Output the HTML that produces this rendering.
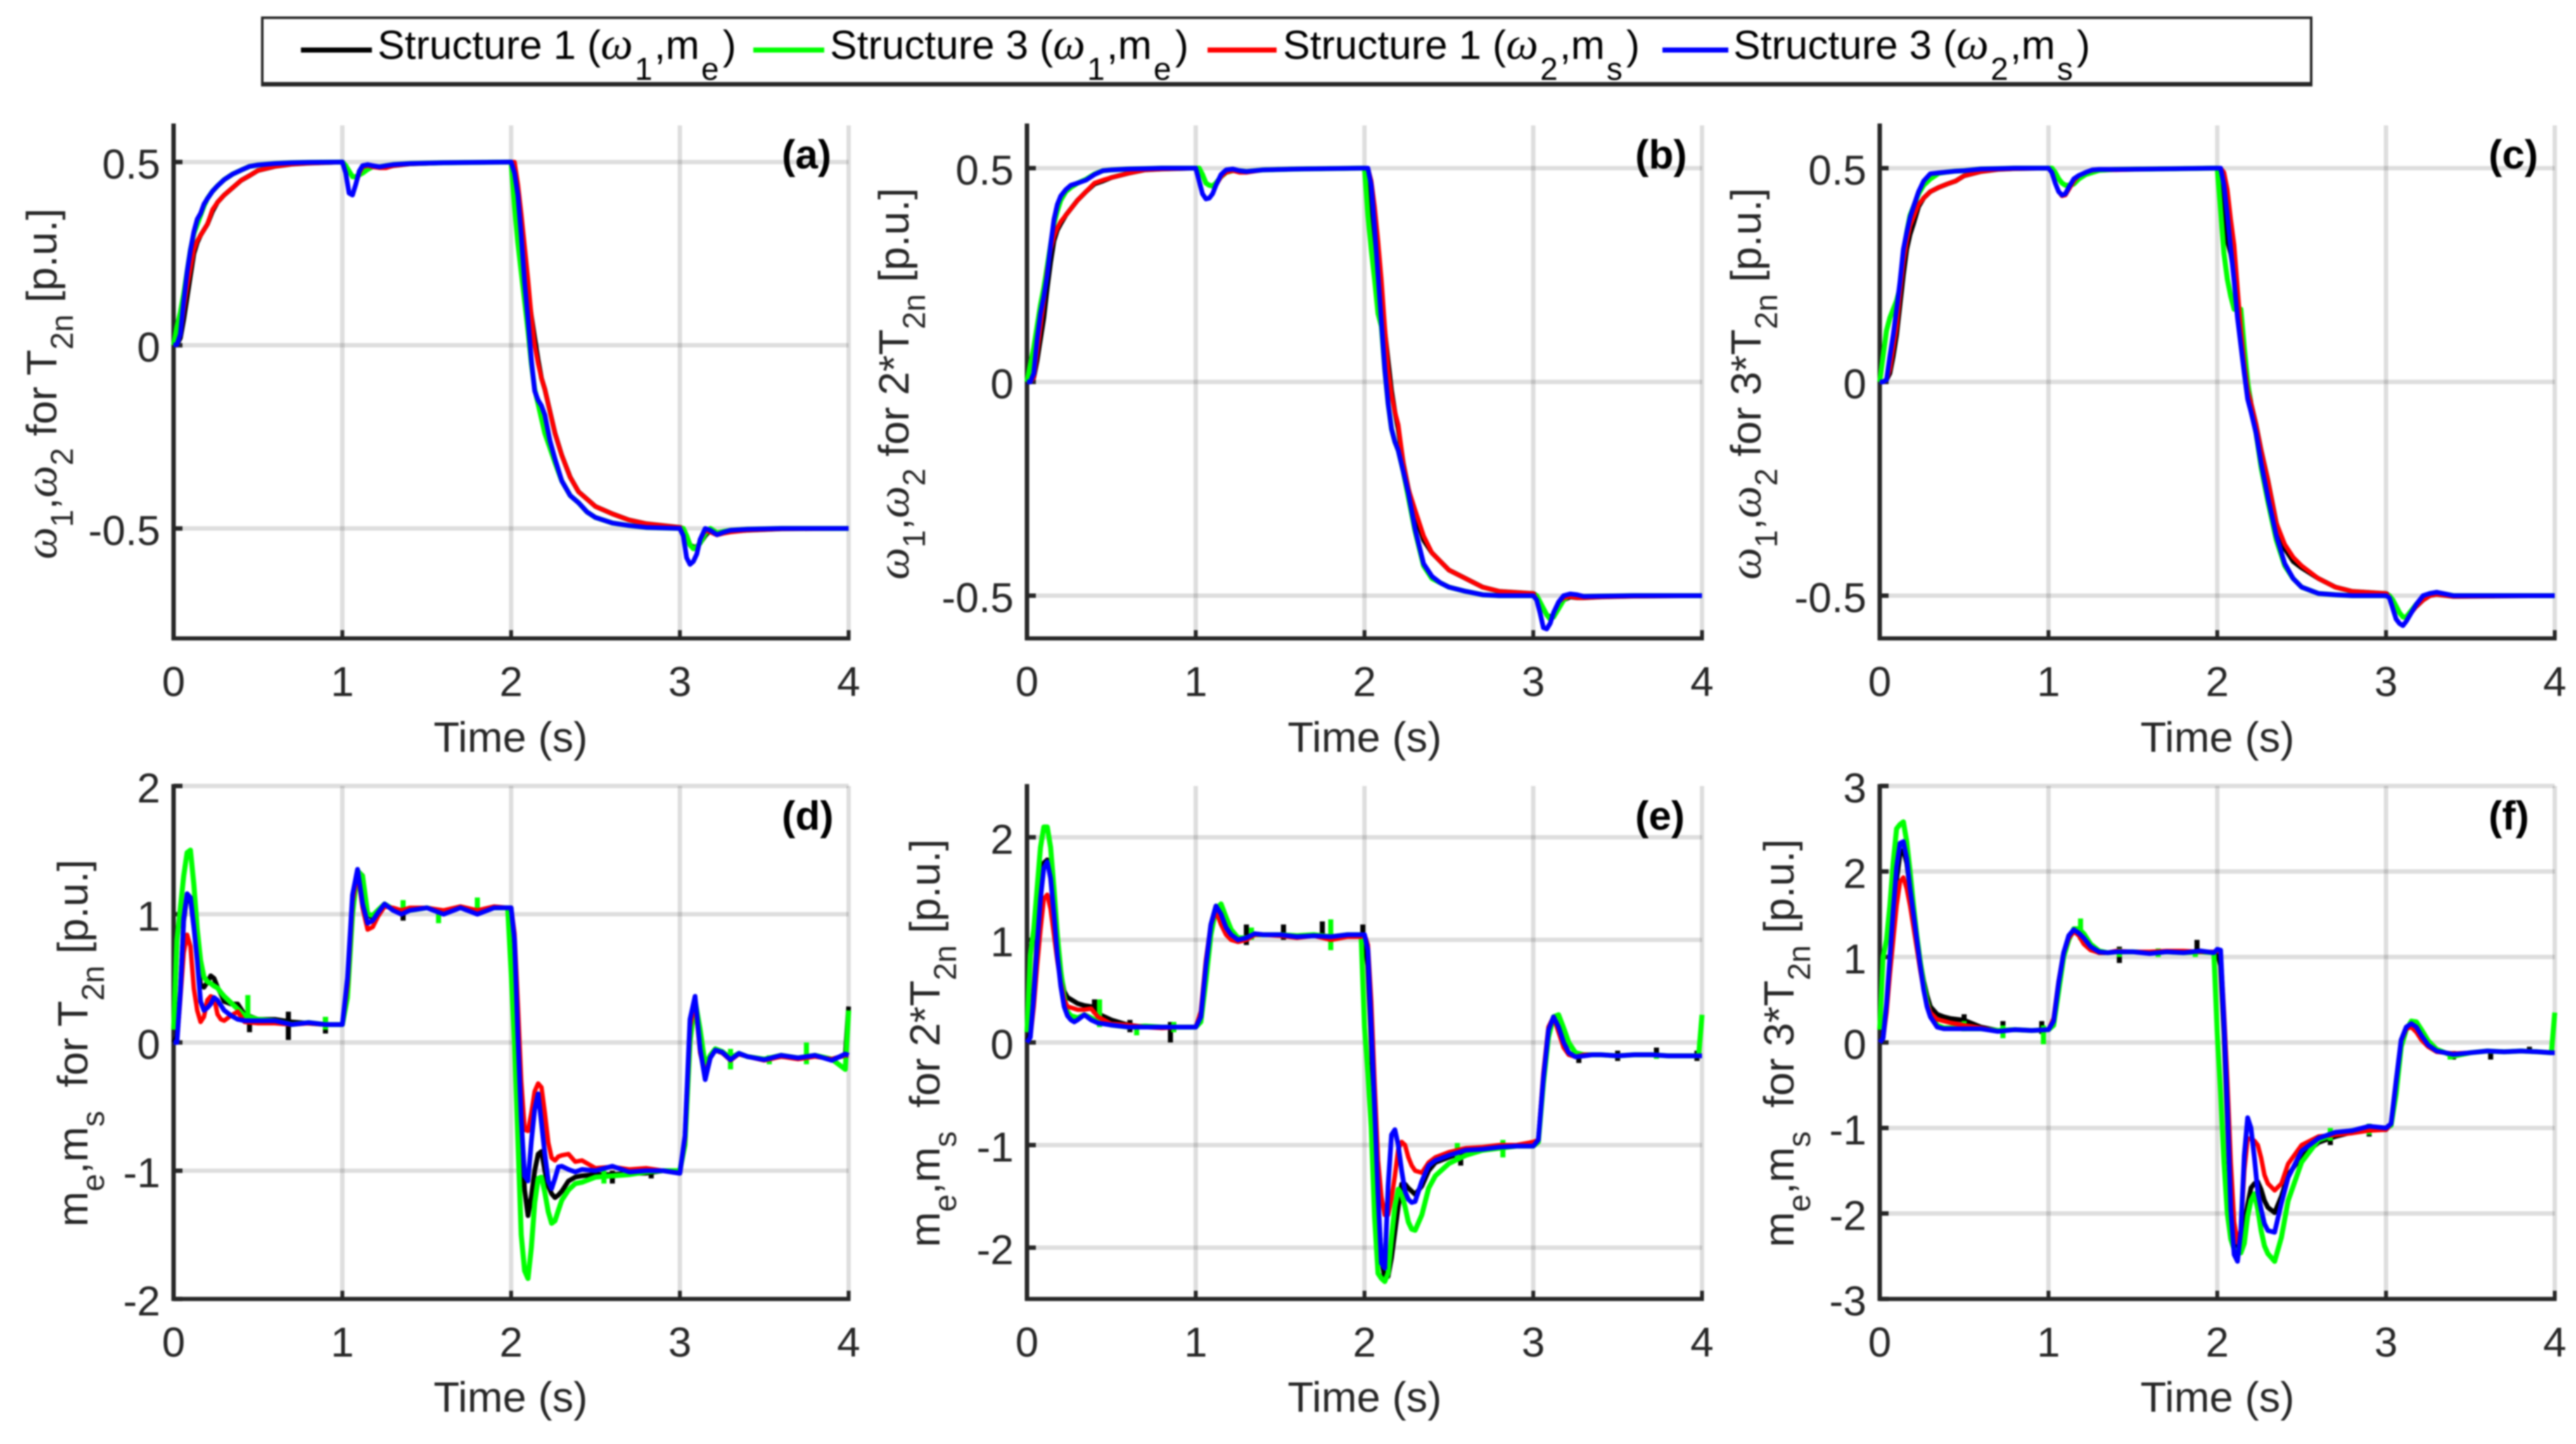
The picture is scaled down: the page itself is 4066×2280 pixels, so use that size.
<!DOCTYPE html>
<html lang="en">
<head>
<meta charset="utf-8">
<title>Speed and torque responses for structures 1 and 3</title>
<style>
html,body{margin:0;padding:0;background:#fff;width:4066px;height:2280px;overflow:hidden}
svg{display:block;filter:blur(1.4px)}
text{font-family:"Liberation Sans",Arial,sans-serif;fill:#262626;white-space:pre}
.om{font-family:"Liberation Serif",serif;font-style:italic}
.yl .om{font-size:72px}
.lg .om{font-size:72px}
.sb{font-size:50px}
.yl{font-size:67px}
.lg{font-size:64px;fill:#000}
.pl{font-size:64px;font-weight:bold;fill:#000}
</style>
</head>
<body>
<svg id="figure" width="4066" height="2280" viewBox="0 0 4066 2280" xmlns="http://www.w3.org/2000/svg">
<rect x="0" y="0" width="4066" height="2280" fill="#fff"/>
<g>
<rect x="414" y="28" width="3234" height="105" fill="#fff" stroke="#262626" stroke-width="4"/>
<line x1="412" y1="133" x2="3650" y2="133" stroke="#262626" stroke-width="7"/>
<line x1="475" y1="79" x2="587" y2="79" stroke="#000" stroke-width="8"/>
<text class="lg" x="596" y="93">Structure 1 (<tspan class="om">ω</tspan><tspan class="sb" dx="3" dy="33">1</tspan><tspan dx="3" dy="-33">,m</tspan><tspan class="sb" dx="3" dy="33">e</tspan><tspan dx="6" dy="-33">)</tspan></text>
<line x1="1189" y1="79" x2="1301" y2="79" stroke="#00ff00" stroke-width="8"/>
<text class="lg" x="1310" y="93">Structure 3 (<tspan class="om">ω</tspan><tspan class="sb" dx="3" dy="33">1</tspan><tspan dx="3" dy="-33">,m</tspan><tspan class="sb" dx="3" dy="33">e</tspan><tspan dx="6" dy="-33">)</tspan></text>
<line x1="1906" y1="79" x2="2015" y2="79" stroke="#ff0000" stroke-width="8"/>
<text class="lg" x="2025" y="93">Structure 1 (<tspan class="om">ω</tspan><tspan class="sb" dx="3" dy="33">2</tspan><tspan dx="3" dy="-33">,m</tspan><tspan class="sb" dx="3" dy="33">s</tspan><tspan dx="6" dy="-33">)</tspan></text>
<line x1="2624" y1="79" x2="2728" y2="79" stroke="#0000ff" stroke-width="8"/>
<text class="lg" x="2736" y="93">Structure 3 (<tspan class="om">ω</tspan><tspan class="sb" dx="3" dy="33">2</tspan><tspan dx="3" dy="-33">,m</tspan><tspan class="sb" dx="3" dy="33">s</tspan><tspan dx="6" dy="-33">)</tspan></text>
</g>
<g id="plots"></g>
<g>
<text class="yl" text-anchor="middle" transform="translate(89,606) rotate(-90)"><tspan class="om">ω</tspan><tspan class="sb" dy="26">1</tspan><tspan dy="-26">,</tspan><tspan class="om">ω</tspan><tspan class="sb" dy="26">2</tspan><tspan dy="-26"> for T</tspan><tspan class="sb" dy="26">2n</tspan><tspan dy="-26"> [p.u.]</tspan></text>
<text class="yl" text-anchor="middle" transform="translate(1434,606) rotate(-90)"><tspan class="om">ω</tspan><tspan class="sb" dy="26">1</tspan><tspan dy="-26">,</tspan><tspan class="om">ω</tspan><tspan class="sb" dy="26">2</tspan><tspan dy="-26"> for 2*T</tspan><tspan class="sb" dy="26">2n</tspan><tspan dy="-26"> [p.u.]</tspan></text>
<text class="yl" text-anchor="middle" transform="translate(2779,606) rotate(-90)"><tspan class="om">ω</tspan><tspan class="sb" dy="26">1</tspan><tspan dy="-26">,</tspan><tspan class="om">ω</tspan><tspan class="sb" dy="26">2</tspan><tspan dy="-26"> for 3*T</tspan><tspan class="sb" dy="26">2n</tspan><tspan dy="-26"> [p.u.]</tspan></text>
<text class="yl" text-anchor="middle" transform="translate(138,1647) rotate(-90)">m<tspan class="sb" dy="26">e</tspan><tspan dy="-26">,m</tspan><tspan class="sb" dy="26">s</tspan><tspan dy="-26">  for T</tspan><tspan class="sb" dy="26">2n</tspan><tspan dy="-26"> [p.u.]</tspan></text>
<text class="yl" text-anchor="middle" transform="translate(1483,1647) rotate(-90)">m<tspan class="sb" dy="26">e</tspan><tspan dy="-26">,m</tspan><tspan class="sb" dy="26">s</tspan><tspan dy="-26">  for 2*T</tspan><tspan class="sb" dy="26">2n</tspan><tspan dy="-26"> [p.u.]</tspan></text>
<text class="yl" text-anchor="middle" transform="translate(2831,1647) rotate(-90)">m<tspan class="sb" dy="26">e</tspan><tspan dy="-26">,m</tspan><tspan class="sb" dy="26">s</tspan><tspan dy="-26">  for 3*T</tspan><tspan class="sb" dy="26">2n</tspan><tspan dy="-26"> [p.u.]</tspan></text>
<text class="yl" text-anchor="middle" x="806" y="1187">Time (s)</text>
<text class="yl" text-anchor="middle" x="2154" y="1187">Time (s)</text>
<text class="yl" text-anchor="middle" x="3500" y="1187">Time (s)</text>
<text class="yl" text-anchor="middle" x="806" y="2229">Time (s)</text>
<text class="yl" text-anchor="middle" x="2154" y="2229">Time (s)</text>
<text class="yl" text-anchor="middle" x="3500" y="2229">Time (s)</text>
<text class="pl" x="1234" y="266">(a)</text>
<text class="pl" x="2581" y="266">(b)</text>
<text class="pl" x="3928" y="266">(c)</text>
<text class="pl" x="1234" y="1310">(d)</text>
<text class="pl" x="2581" y="1310">(e)</text>
<text class="pl" x="3928" y="1310">(f)</text>
</g>
</svg>
<script>
const xTickValues=[0,1,2,3,4];
const xTickLabels=['0','1','2','3','4'];

const timeTop=[
0,.02,.04,.06,.08,.1,.12,.14,.16,.18,.2,.23,.26,.3,.35,.4,.45,.5,.6,.7,.8,
1,1.02,1.04,1.06,1.08,1.1,1.12,1.15,1.18,1.22,1.26,1.3,1.4,1.6,1.98,
2,2.02,2.04,2.06,2.08,2.1,2.12,2.14,2.16,2.18,2.2,2.23,2.26,2.3,2.35,2.4,2.45,2.5,2.6,2.7,2.8,
3,3.02,3.04,3.06,3.08,3.1,3.12,3.15,3.18,3.22,3.26,3.3,3.4,3.6,4];

const timeBottom=[
0,.02,.04,.06,.08,.1,.12,.14,.16,.18,.2,.22,.24,.26,.28,.3,.34,.38,.42,.5,.6,.7,.8,.9,
1,1.03,1.06,1.09,1.12,1.15,1.18,1.21,1.25,1.3,1.35,1.4,1.5,1.6,1.7,1.8,1.9,1.98,
2,2.02,2.04,2.06,2.08,2.1,2.12,2.14,2.16,2.18,2.2,2.22,2.24,2.26,2.28,2.3,2.34,2.38,2.42,2.5,2.6,2.7,2.8,2.9,
3,3.03,3.06,3.09,3.12,3.15,3.18,3.21,3.25,3.3,3.35,3.4,3.5,3.6,3.7,3.8,3.9,
3.98,4];

/* panel a: speed, T2n */
const aYTicks=[-.5,0,.5];
const aYLabels=['-0.5','0','0.5'];
const aBlack=[
0,.002,.02,.07,.13,.19,.25,.28,.3,.315,.33,.365,.39,.41,.43,.45,.463,.477,.488,.494,.497,
.5,.49,.475,.46,.46,.465,.47,.48,.487,.485,.485,.49,.495,.498,.5,
.5,.46,.38,.3,.23,.15,.08,.02,-.04,-.09,-.12,-.18,-.24,-.3,-.36,-.4,-.42,-.44,-.46,-.477,-.487,
-.497,-.5,-.52,-.545,-.55,-.55,-.54,-.52,-.505,-.515,-.512,-.508,-.505,-.501,-.5];
const aGreen=[
0,.05,.09,.14,.2,.26,.305,.33,.355,.38,.4,.42,.435,.452,.467,.478,.488,.492,.496,.498,.499,
.5,.49,.475,.46,.46,.465,.47,.48,.488,.487,.49,.493,.496,.498,.5,
.5,.38,.28,.2,.12,.04,-.05,-.12,-.16,-.2,-.24,-.28,-.32,-.37,-.41,-.43,-.455,-.47,-.485,-.492,-.497,
-.5,-.5,-.52,-.545,-.555,-.55,-.54,-.515,-.5,-.512,-.508,-.505,-.502,-.5,-.5];
const aRed=[
0,.002,.03,.1,.16,.21,.26,.285,.3,.315,.33,.37,.39,.41,.43,.45,.463,.477,.488,.494,.497,
.5,.47,.415,.41,.44,.47,.487,.49,.487,.484,.484,.49,.495,.498,.5,
.5,.5,.44,.36,.27,.18,.08,0,-.05,-.09,-.12,-.18,-.24,-.3,-.36,-.4,-.42,-.44,-.46,-.477,-.487,
-.497,-.52,-.58,-.598,-.59,-.57,-.53,-.505,-.51,-.518,-.513,-.51,-.505,-.501,-.5];
const aBlue=[
0,.002,.03,.12,.2,.26,.31,.344,.36,.385,.4,.42,.435,.452,.467,.478,.488,.492,.496,.498,.499,
.5,.47,.415,.41,.44,.475,.49,.493,.49,.487,.49,.493,.496,.498,.5,
.5,.47,.41,.3,.17,.07,-.04,-.125,-.15,-.165,-.19,-.26,-.31,-.37,-.41,-.43,-.455,-.47,-.485,-.492,-.497,
-.5,-.52,-.58,-.598,-.59,-.57,-.53,-.5,-.505,-.517,-.51,-.505,-.502,-.5,-.5];

/* panel b: speed, 2*T2n */
const bYTicks=[-.5,0,.5];
const bYLabels=['-0.5','0','0.5'];
const bBlack=[
0,0,.01,.05,.1,.15,.22,.28,.33,.355,.37,.39,.405,.425,.445,.463,.47,.478,.488,.496,.498,
.5,.5,.485,.465,.46,.458,.465,.48,.49,.494,.494,.492,.496,.498,.5,
.5,.46,.4,.33,.27,.2,.12,.05,-.02,-.07,-.11,-.19,-.25,-.31,-.37,-.4,-.42,-.44,-.46,-.48,-.49,
-.495,-.5,-.515,-.53,-.545,-.55,-.545,-.525,-.51,-.503,-.505,-.505,-.503,-.501,-.5];
const bGreen=[
0,.04,.08,.13,.18,.22,.27,.32,.37,.4,.425,.445,.455,.465,.474,.486,.494,.496,.498,.499,.5,
.5,.5,.485,.465,.46,.458,.465,.48,.49,.494,.494,.492,.496,.498,.5,
.5,.39,.31,.24,.16,.13,.03,-.05,-.11,-.14,-.16,-.21,-.27,-.35,-.43,-.46,-.47,-.48,-.49,-.498,-.5,
-.5,-.5,-.515,-.53,-.545,-.555,-.55,-.53,-.51,-.498,-.5,-.502,-.501,-.5,-.5];
const bRed=[
0,0,.01,.07,.13,.19,.26,.31,.34,.36,.375,.39,.405,.425,.445,.465,.472,.478,.488,.496,.498,
.5,.47,.44,.428,.43,.44,.46,.48,.49,.494,.49,.49,.496,.498,.5,
.5,.5,.47,.41,.33,.24,.13,.03,-.03,-.07,-.1,-.19,-.25,-.3,-.36,-.4,-.42,-.44,-.46,-.48,-.49,
-.495,-.51,-.54,-.575,-.578,-.565,-.54,-.515,-.505,-.502,-.505,-.505,-.503,-.501,-.5];
const bBlue=[
0,0,.02,.1,.16,.2,.25,.32,.38,.415,.435,.45,.46,.465,.472,.485,.494,.496,.498,.499,.5,
.5,.47,.44,.428,.43,.44,.46,.485,.496,.498,.494,.492,.496,.498,.5,
.5,.5,.46,.36,.25,.14,.03,-.05,-.11,-.14,-.16,-.21,-.26,-.345,-.425,-.455,-.47,-.48,-.49,-.498,-.5,
-.5,-.51,-.54,-.575,-.578,-.565,-.54,-.515,-.5,-.496,-.498,-.502,-.501,-.5,-.5];

/* panel c: speed, 3*T2n */
const cYTicks=[-.5,0,.5];
const cYLabels=['-0.5','0','0.5'];
const cBlack=[
0,0,.005,.02,.06,.11,.18,.25,.31,.345,.37,.41,.43,.445,.455,.463,.47,.482,.492,.497,.499,
.5,.5,.49,.475,.465,.46,.458,.463,.475,.485,.49,.495,.497,.498,.5,
.5,.46,.39,.33,.3,.25,.2,.13,.07,0,-.05,-.1,-.16,-.23,-.33,-.39,-.42,-.435,-.46,-.48,-.49,
-.495,-.5,-.51,-.525,-.54,-.55,-.55,-.535,-.525,-.51,-.5,-.497,-.502,-.501,-.5];
const cGreen=[
0,.06,.12,.15,.17,.19,.22,.3,.35,.39,.41,.44,.46,.475,.488,.491,.493,.494,.498,.499,.5,
.5,.5,.49,.475,.465,.46,.46,.463,.475,.485,.49,.495,.497,.498,.5,
.5,.4,.3,.24,.2,.17,.17,.17,.08,0,-.06,-.12,-.2,-.28,-.37,-.43,-.46,-.48,-.495,-.498,-.5,
-.5,-.5,-.51,-.525,-.54,-.55,-.55,-.535,-.52,-.505,-.495,-.493,-.5,-.5,-.5];
const cRed=[
0,0,.005,.03,.08,.13,.21,.28,.33,.365,.385,.415,.43,.445,.455,.463,.47,.482,.492,.497,.499,
.5,.49,.465,.445,.435,.437,.45,.47,.483,.49,.495,.497,.496,.498,.5,
.5,.5,.49,.45,.38,.32,.22,.12,.04,-.02,-.05,-.1,-.16,-.23,-.33,-.38,-.41,-.43,-.46,-.48,-.49,
-.495,-.505,-.53,-.555,-.565,-.57,-.56,-.54,-.525,-.51,-.5,-.497,-.502,-.501,-.5];
const cBlue=[
0,0,.005,.06,.11,.17,.235,.31,.35,.385,.41,.445,.47,.487,.489,.491,.493,.494,.498,.499,.5,
.5,.49,.465,.445,.437,.44,.455,.475,.483,.49,.496,.497,.497,.498,.5,
.5,.5,.46,.39,.31,.235,.15,.085,.02,-.04,-.07,-.12,-.19,-.27,-.36,-.425,-.46,-.48,-.495,-.498,-.5,
-.5,-.505,-.53,-.555,-.565,-.57,-.56,-.54,-.52,-.5,-.495,-.492,-.5,-.5,-.5];

/* panel d: torque, T2n */
const dYTicks=[-2,-1,0,1,2];
const dYLabels=['-2','-1','0','1','2'];
const dBlack=[
0,.05,.4,.95,1.15,1.12,.9,.65,.45,.43,.47,.52,.5,.43,.38,.32,.3,.3,.22,.18,.18,.16,.15,.14,
.14,.45,1.1,1.34,1.3,1,.97,1.03,1.08,1.04,1,1.03,1.05,1.02,1.05,1.02,1.05,1.05,
1.05,.6,-.1,-.7,-1.15,-1.35,-1.2,-1,-.87,-.85,-1,-1.12,-1.18,-1.21,-1.19,-1.16,-1.08,-1.05,-1.04,-1.03,-1.03,-1.02,-1.02,-1,
-1.02,-.75,.12,.33,-.05,-.28,-.12,-.06,-.08,-.13,-.09,-.11,-.13,-.11,-.12,-.1,-.13,
-.1,.28];
const dGreen=[
.1,.8,1.05,1.3,1.48,1.5,1.23,.885,.64,.51,.475,.46,.44,.425,.39,.36,.31,.26,.21,.18,.17,.14,.155,.14,
.14,.35,1,1.34,1.295,1,.99,1.03,1.08,1.04,1.01,1.03,1.05,1.02,1.05,1.02,1.05,1.05,
.55,0,-.75,-1.5,-1.78,-1.84,-1.6,-1.25,-1.06,-1.05,-1.17,-1.32,-1.41,-1.39,-1.31,-1.23,-1.15,-1.1,-1.09,-1.05,-1.04,-1.03,-1.01,-1,
-1,-.8,0,.33,.1,-.18,-.1,-.05,-.07,-.12,-.085,-.11,-.13,-.1,-.12,-.1,-.13,
-.21,.25];
const dRed=[
0,0,.35,.7,.84,.75,.42,.25,.16,.2,.33,.36,.35,.22,.18,.17,.21,.24,.16,.15,.15,.14,.15,.14,
.14,.45,1.1,1.33,1.05,.88,.9,.98,1.06,1.05,1.03,1.05,1.05,1.03,1.06,1.03,1.06,1.05,
1.05,.85,.3,-.3,-.68,-.69,-.55,-.38,-.32,-.35,-.55,-.78,-.9,-.92,-.89,-.88,-.87,-.93,-.92,-.98,-.97,-.99,-.98,-1,
-1.02,-.75,.12,.33,-.08,-.25,-.12,-.06,-.08,-.14,-.09,-.11,-.14,-.11,-.13,-.11,-.13,
-.1,-.1];
const dBlue=[
0,0,.39,.97,1.16,1.13,.9,.64,.32,.25,.27,.3,.35,.33,.29,.25,.21,.18,.17,.17,.17,.14,.155,.14,
.14,.5,1.15,1.35,1.08,.93,.95,1.01,1.08,1.03,1,1.03,1.05,1,1.05,1,1.05,1.05,
1.05,.8,.05,-.59,-1.04,-1.08,-.77,-.52,-.4,-.63,-.87,-1.08,-1.14,-1.06,-.97,-.965,-.99,-1.01,-.99,-1,-.965,-1.01,-1,-1,
-1.02,-.73,.18,.36,-.05,-.29,-.12,-.06,-.075,-.135,-.085,-.11,-.135,-.1,-.12,-.1,-.14,
-.09,-.1];
const dBlackSpikeTime=[.45,.68,.9,1.36,2.6,2.83,3.3];
const dBlackSpikeLow=[.08,.02,.07,.95,-1.1,-1.06,-.2];
const dBlackSpikeHigh=[.2,.24,.2,1.05,-1,-1,-.1];
const dGreenSpikeTime=[.44,.9,1.36,1.57,1.8,2.55,3.3,3.53,3.75];
const dGreenSpikeLow=[.15,.1,1,.93,1,-1.1,-.21,-.17,-.17];
const dGreenSpikeHigh=[.37,.2,1.11,1.05,1.13,-1,-.05,-.1,0];

/* panel e: torque, 2*T2n */
const eYTicks=[-2,-1,0,1,2];
const eYLabels=['-2','-1','0','1','2'];
const eBlack=[
0,.1,.5,1,1.45,1.75,1.78,1.6,1.3,.95,.68,.5,.44,.42,.4,.38,.36,.35,.28,.22,.17,.15,.15,.15,
.15,.25,.75,1.15,1.33,1.25,1.1,1.05,1,1.02,1.06,1.05,1.05,1.03,1.04,1.03,1.05,1.05,
1,.75,0,-.8,-1.6,-2.1,-2.3,-2.28,-2.1,-1.85,-1.6,-1.38,-1.38,-1.42,-1.45,-1.48,-1.4,-1.25,-1.17,-1.12,-1.06,-1.05,-1.03,-1.01,
-1.01,-.95,-.35,.12,.25,.15,0,-.1,-.14,-.13,-.12,-.12,-.13,-.12,-.12,-.13,-.13,
-.13,-.13];
const eGreen=[
.1,.85,1.1,1.5,1.9,2.1,2.1,1.9,1.5,1.05,.7,.45,.3,.26,.25,.24,.27,.24,.2,.17,.15,.16,.15,.15,
.15,.2,.6,1.05,1.3,1.35,1.22,1.1,1.02,1.02,1.05,1.05,1.05,1.04,1.05,1.03,1.05,1.05,
.15,-.3,-.83,-1.7,-2.25,-2.3,-2.33,-2.25,-1.9,-1.6,-1.43,-1.48,-1.6,-1.75,-1.82,-1.83,-1.68,-1.42,-1.3,-1.18,-1.1,-1.05,-1.03,-1.01,
-1.01,-.97,-.4,.05,.25,.27,.14,0,-.1,-.12,-.12,-.12,-.13,-.12,-.12,-.13,-.13,
-.13,.27];
const eRed=[
0,.05,.35,.75,1.1,1.4,1.44,1.3,1.05,.8,.58,.42,.35,.34,.33,.32,.32,.33,.25,.18,.17,.15,.14,.15,
.15,.3,.8,1.15,1.28,1.15,1.05,1,.98,1,1.05,1.05,1.04,1.02,1.04,1,1.03,1.03,
1.05,.95,.4,-.4,-1.15,-1.5,-1.68,-1.68,-1.52,-1.3,-1.04,-.97,-1,-1.12,-1.2,-1.25,-1.27,-1.17,-1.12,-1.07,-1.03,-1.02,-1,-1,
-.97,-.95,-.3,.15,.25,.1,-.05,-.12,-.14,-.12,-.12,-.12,-.13,-.12,-.12,-.13,-.13,
-.13,-.13];
const eBlue=[
0,.05,.45,.95,1.4,1.7,1.76,1.6,1.25,.85,.55,.35,.26,.22,.2,.22,.27,.22,.19,.17,.15,.15,.15,.15,
.15,.25,.75,1.15,1.33,1.25,1.12,1.05,1,1.02,1.06,1.05,1.05,1.03,1.04,1.03,1.05,1.05,
1.05,.9,.15,-.65,-1.48,-2.15,-2.2,-1.4,-.9,-.85,-1,-1.25,-1.45,-1.53,-1.56,-1.55,-1.35,-1.2,-1.15,-1.1,-1.05,-1.04,-1.02,-1.01,
-1.01,-.95,-.35,.12,.25,.15,0,-.1,-.14,-.13,-.12,-.12,-.13,-.12,-.12,-.13,-.13,
-.13,-.13];
const eBlackSpikeTime=[.4,.61,.85,1.3,1.52,1.75,1.99,2.57,3.27,3.5,3.73,3.97];
const eBlackSpikeLow=[.28,.1,0,.95,1,1.03,.85,-1.2,-.2,-.18,-.1,-.18];
const eBlackSpikeHigh=[.42,.22,.2,1.15,1.15,1.18,1.15,-1.05,-.12,-.08,-.05,-.08];
const eGreenSpikeTime=[.43,.65,.87,1.33,1.8,2.55,2.82,3.73];
const eGreenSpikeLow=[.15,.07,.1,1,.9,-1.15,-1.12,-.16];
const eGreenSpikeHigh=[.42,.17,.2,1.12,1.2,-.98,-.95,-.1];

/* panel f: torque, 3*T2n */
const fYTicks=[-3,-2,-1,0,1,2,3];
const fYLabels=['-3','-2','-1','0','1','2','3'];
const fBlack=[
0,.05,.4,.95,1.45,1.9,2.2,2.25,2.1,1.8,1.5,1.22,.95,.72,.55,.42,.33,.3,.28,.26,.18,.14,.15,.14,
.15,.25,.7,1.05,1.22,1.3,1.27,1.2,1.1,1.05,1.05,1.06,1.06,1.05,1.06,1.05,1.07,1.05,
1.05,.9,.1,-.9,-1.95,-2.35,-2.45,-2.35,-2.15,-1.9,-1.7,-1.65,-1.63,-1.72,-1.85,-1.93,-1.99,-1.8,-1.55,-1.33,-1.17,-1.1,-1.05,-1.02,
-1.02,-.95,-.45,.03,.18,.22,.18,.08,-.03,-.1,-.12,-.14,-.12,-.1,-.11,-.1,-.11,
-.12,-.12];
const fGreen=[
.15,1,1.2,1.6,2.1,2.5,2.55,2.58,2.35,2,1.6,1.25,.95,.68,.48,.33,.2,.17,.17,.16,.16,.14,.15,.14,
.15,.2,.6,1,1.2,1.33,1.33,1.27,1.15,1.07,1.05,1.06,1.06,1.05,1.06,1.05,1.06,1.05,
.1,-.6,-1.4,-2,-2.3,-2.42,-2.46,-2.46,-2.35,-2.03,-1.85,-1.77,-1.95,-2.2,-2.38,-2.47,-2.56,-2.28,-1.85,-1.4,-1.14,-1.07,-1.03,-1,
-1,-.97,-.6,-.05,.15,.25,.24,.15,.02,-.08,-.12,-.16,-.12,-.1,-.11,-.1,-.11,
-.12,.35];
const fRed=[
0,.05,.35,.8,1.2,1.6,1.88,1.93,1.8,1.6,1.35,1.1,.85,.62,.45,.35,.27,.25,.23,.2,.17,.13,.15,.14,
.15,.28,.72,1.05,1.22,1.3,1.25,1.15,1.08,1.05,1.05,1.07,1.06,1.06,1.07,1.07,1.06,1.06,
1.07,1.05,.35,-.45,-1.4,-2.1,-2.34,-2.2,-1.5,-1.12,-1.13,-1.15,-1.2,-1.35,-1.55,-1.65,-1.73,-1.65,-1.42,-1.2,-1.1,-1.08,-1.06,-1.03,
-1.02,-.95,-.45,.02,.16,.18,.12,.03,-.05,-.11,-.12,-.13,-.12,-.1,-.11,-.1,-.11,
-.12,-.12];
const fBlue=[
0,.05,.45,1,1.55,2.05,2.33,2.35,2.15,1.8,1.5,1.2,.9,.62,.42,.3,.18,.16,.16,.16,.16,.13,.15,.14,
.15,.25,.7,1.05,1.25,1.32,1.28,1.22,1.12,1.06,1.05,1.06,1.06,1.04,1.06,1.05,1.07,1.05,
1.09,1.08,.24,-.75,-1.95,-2.48,-2.56,-2.2,-1.32,-.88,-1,-1.35,-1.75,-1.95,-2.12,-2.2,-2.22,-1.88,-1.58,-1.27,-1.12,-1.05,-1.03,-.98,
-1,-.95,-.45,.03,.18,.22,.18,.08,-.03,-.1,-.12,-.14,-.12,-.1,-.11,-.1,-.11,
-.12,-.12];
const fBlackSpikeTime=[.5,.73,.96,1.42,1.88,2.67,2.9,3.4,3.62,3.85];
const fBlackSpikeLow=[.2,.13,.1,.93,1.03,-1.2,-1.1,-.2,-.2,-.1];
const fBlackSpikeHigh=[.33,.25,.25,1.12,1.2,-1.05,-.98,-.1,-.1,-.05];
const fGreenSpikeTime=[.5,.73,.97,1.19,1.42,1.65,1.87,2.67,2.9,3.38];
const fGreenSpikeLow=[.13,.05,-.02,1.2,1,1,1,-1.15,-1.08,-.2];
const fGreenSpikeHigh=[.25,.2,.2,1.45,1.1,1.1,1.08,-1,-.95,-.1];

const SVG_NS='http://www.w3.org/2000/svg';
const plotsRoot=document.getElementById('plots');

function makeSvg(tag,parent,props){
  const el=document.createElementNS(SVG_NS,tag);
  for(const k in props){el.setAttribute(k,props[k]);}
  parent.appendChild(el);
  return el;
}

function drawPanel(p){
  const right=p.left+1065.5;
  const xAxis=t=>p.left+t/4*1065.5;
  const yAxis=v=>p.top+(p.yMax-v)/(p.yMax-p.yMin)*810;
  const bottom=p.top+810;

  const g=makeSvg('g',plotsRoot,{});
  
  

  xTickValues.forEach((t,i)=>{
    const grid=makeSvg('line',g,{x1:xAxis(t),x2:xAxis(t),y1:p.top,y2:bottom,stroke:'#000','stroke-opacity':.13,'stroke-width':7});
    
    
  });
  p.yTicks.forEach((v)=>{
    const grid=makeSvg('line',g,{x1:p.left,x2:right,y1:yAxis(v),y2:yAxis(v),stroke:'#000','stroke-opacity':.13,'stroke-width':7});
    
    
  });

  const yLine=makeSvg('line',g,{x1:p.left,x2:p.left,y1:p.top-3,y2:bottom+3,stroke:'#262626','stroke-width':7});
  
  
  const xLine=makeSvg('line',g,{x1:p.left-3,x2:right+3,y1:bottom,y2:bottom,stroke:'#262626','stroke-width':6.5});
  
  

  xTickValues.forEach((t,i)=>{
    const tick=makeSvg('line',g,{x1:xAxis(t),x2:xAxis(t),y1:bottom,y2:bottom-13,stroke:'#262626','stroke-width':6});
    
    
    const lab=makeSvg('text',g,{x:xAxis(t),y:bottom+91,'text-anchor':'middle','font-size':66});
    
    
    lab.textContent=xTickLabels[i];
  });
  p.yTicks.forEach((v,i)=>{
    const tick=makeSvg('line',g,{x1:p.left,x2:p.left+14,y1:yAxis(v),y2:yAxis(v),stroke:'#262626','stroke-width':7});
    
    
    const lab=makeSvg('text',g,{x:p.left-21,y:yAxis(v)+26,'text-anchor':'end','font-size':66});
    
    
    lab.textContent=p.yLabels[i];
  });

  p.series.forEach((s)=>{
    const d=s.values.map((v,i)=>(i?'L':'M')+xAxis(p.time[i]).toFixed(1)+' '+yAxis(v).toFixed(1)).join('');
    const path=makeSvg('path',g,{d:d,fill:'none',stroke:s.color,'stroke-width':s.width,'stroke-linejoin':'round','stroke-linecap':'butt'});
    
    
    if(s.spikeTime){
      s.spikeTime.forEach((t,i)=>{
        const sp=makeSvg('line',g,{x1:xAxis(t),x2:xAxis(t),y1:yAxis(s.spikeLow[i]),y2:yAxis(s.spikeHigh[i]),stroke:s.color,'stroke-width':8});
        
        
      });
    }
  });
}

const BLACK='#000000',GREEN='#00ff00',RED='#ff0000',BLUE='#0000ff';

drawPanel({id:'a',left:274,top:198,yMin:-.8,yMax:.6,yTicks:aYTicks,yLabels:aYLabels,time:timeTop,series:[
 {name:'structure-1-w1',color:BLACK,width:7.5,values:aBlack},
 {name:'structure-3-w1',color:GREEN,width:8,values:aGreen},
 {name:'structure-1-w2',color:RED,width:7,values:aRed},
 {name:'structure-3-w2',color:BLUE,width:7.5,values:aBlue}]});
drawPanel({id:'b',left:1621,top:198,yMin:-.6,yMax:.6,yTicks:bYTicks,yLabels:bYLabels,time:timeTop,series:[
 {name:'structure-1-w1',color:BLACK,width:7.5,values:bBlack},
 {name:'structure-3-w1',color:GREEN,width:8,values:bGreen},
 {name:'structure-1-w2',color:RED,width:7,values:bRed},
 {name:'structure-3-w2',color:BLUE,width:7.5,values:bBlue}]});
drawPanel({id:'c',left:2967,top:198,yMin:-.6,yMax:.6,yTicks:cYTicks,yLabels:cYLabels,time:timeTop,series:[
 {name:'structure-1-w1',color:BLACK,width:7.5,values:cBlack},
 {name:'structure-3-w1',color:GREEN,width:8,values:cGreen},
 {name:'structure-1-w2',color:RED,width:7,values:cRed},
 {name:'structure-3-w2',color:BLUE,width:7.5,values:cBlue}]});
drawPanel({id:'d',left:274,top:1241,yMin:-2,yMax:2,yTicks:dYTicks,yLabels:dYLabels,time:timeBottom,series:[
 {name:'structure-1-me',color:BLACK,width:7.5,values:dBlack,spikeTime:dBlackSpikeTime,spikeLow:dBlackSpikeLow,spikeHigh:dBlackSpikeHigh},
 {name:'structure-3-me',color:GREEN,width:8,values:dGreen,spikeTime:dGreenSpikeTime,spikeLow:dGreenSpikeLow,spikeHigh:dGreenSpikeHigh},
 {name:'structure-1-ms',color:RED,width:7,values:dRed},
 {name:'structure-3-ms',color:BLUE,width:7.5,values:dBlue}]});
drawPanel({id:'e',left:1621,top:1241,yMin:-2.5,yMax:2.5,yTicks:eYTicks,yLabels:eYLabels,time:timeBottom,series:[
 {name:'structure-1-me',color:BLACK,width:7.5,values:eBlack,spikeTime:eBlackSpikeTime,spikeLow:eBlackSpikeLow,spikeHigh:eBlackSpikeHigh},
 {name:'structure-3-me',color:GREEN,width:8,values:eGreen,spikeTime:eGreenSpikeTime,spikeLow:eGreenSpikeLow,spikeHigh:eGreenSpikeHigh},
 {name:'structure-1-ms',color:RED,width:7,values:eRed},
 {name:'structure-3-ms',color:BLUE,width:7.5,values:eBlue}]});
drawPanel({id:'f',left:2967,top:1241,yMin:-3,yMax:3,yTicks:fYTicks,yLabels:fYLabels,time:timeBottom,series:[
 {name:'structure-1-me',color:BLACK,width:7.5,values:fBlack,spikeTime:fBlackSpikeTime,spikeLow:fBlackSpikeLow,spikeHigh:fBlackSpikeHigh},
 {name:'structure-3-me',color:GREEN,width:8,values:fGreen,spikeTime:fGreenSpikeTime,spikeLow:fGreenSpikeLow,spikeHigh:fGreenSpikeHigh},
 {name:'structure-1-ms',color:RED,width:7,values:fRed},
 {name:'structure-3-ms',color:BLUE,width:7.5,values:fBlue}]});
</script>
</body>
</html>
